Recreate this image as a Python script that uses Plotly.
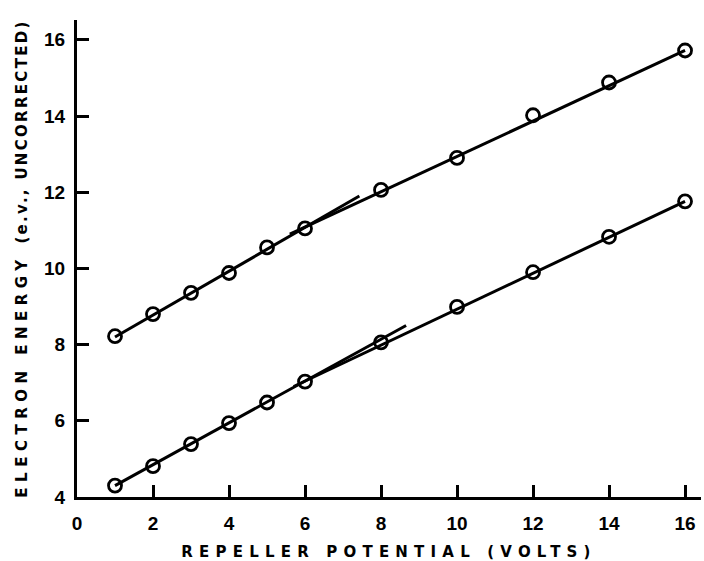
import plotly.graph_objects as go

# measured points
repeller = [1, 2, 3, 4, 5, 6, 8, 10, 12, 14, 16]
upper_energy = [8.22, 8.8, 9.36, 9.88, 10.55, 11.05, 12.06, 12.9, 14.02, 14.88, 15.72]
lower_energy = [4.3, 4.81, 5.39, 5.94, 6.48, 7.03, 8.06, 8.99, 9.9, 10.83, 11.76]

# fitted line segments (endpoints)
upper_fit1_x = [1, 7.43]
upper_fit1_y = [8.2, 11.9]
upper_fit2_x = [5.6, 16]
upper_fit2_y = [10.9, 15.72]
lower_fit1_x = [1, 8.66]
lower_fit1_y = [4.3, 8.5]
lower_fit2_x = [5.7, 16]
lower_fit2_y = [6.9, 11.76]

x_ticks = [0, 2, 4, 6, 8, 10, 12, 14, 16]
y_ticks = [4, 6, 8, 10, 12, 14, 16]

fig = go.Figure()
for fx, fy in [(upper_fit1_x, upper_fit1_y), (upper_fit2_x, upper_fit2_y),
               (lower_fit1_x, lower_fit1_y), (lower_fit2_x, lower_fit2_y)]:
    fig.add_trace(go.Scatter(x=fx, y=fy, mode="lines",
                             line=dict(color="black", width=3), showlegend=False,
                             hoverinfo="skip"))
for ys in [upper_energy, lower_energy]:
    fig.add_trace(go.Scatter(x=repeller, y=ys, mode="markers",
                             marker=dict(symbol="circle-open", size=13, color="black",
                                         line=dict(width=2.8, color="black")),
                             showlegend=False))

tick_font = dict(family="Liberation Sans", size=19, color="black")
title_font = dict(family="DejaVu Sans", size=15, color="black")
fig.update_layout(
    width=704, height=561,
    margin=dict(l=77, r=3, t=20, b=64),
    paper_bgcolor="white", plot_bgcolor="white",
    xaxis=dict(range=[0, 16.42], tickvals=x_ticks, ticktext=[f"<b>{v}</b>" for v in x_ticks],
               tickfont=tick_font,
               ticks="inside", ticklen=12, tickwidth=3, tickcolor="black",
               showline=True, linewidth=3, linecolor="black", showgrid=False,
               zeroline=False, ticklabelstandoff=7,
               title=dict(text='<b><span style="letter-spacing:6.2px">REPELLER POTENTIAL (VOLTS)</span></b>',
                          font=title_font, standoff=14)),
    yaxis=dict(range=[4, 16.52], tickvals=y_ticks, ticktext=[f"<b>{v}</b>" for v in y_ticks],
               tickfont=tick_font,
               ticks="inside", ticklen=12, tickwidth=3, tickcolor="black",
               showline=True, linewidth=3, linecolor="black", showgrid=False,
               zeroline=False, ticklabelstandoff=5,
               title=dict(text='<b><span style="letter-spacing:5.5px">ELECTRON ENERGY </span><span style="letter-spacing:2.3px">(e.v., UNCORRECTED)</span></b>',
                          font=title_font, standoff=13)),
)
fig.write_html("out.html")
